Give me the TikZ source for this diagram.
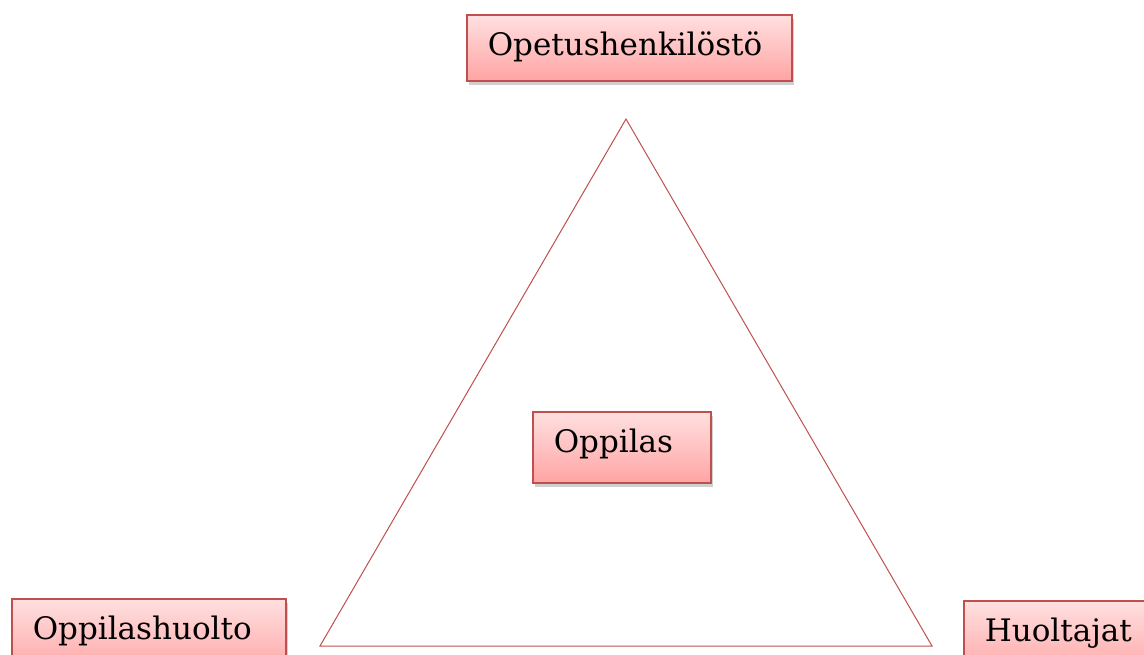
\documentclass[tikz,border=0pt]{standalone}
\usepackage{fontspec}
\setmainfont{DejaVu Serif}
\usetikzlibrary{shadows}
\definecolor{boxborder}{HTML}{C0504D}
\definecolor{boxtop}{HTML}{FFE0E0}
\definecolor{boxbot}{HTML}{FFA4A4}
\definecolor{triline}{HTML}{C0504D}
\tikzset{
  rolebox/.style={draw=boxborder, line width=1.6pt, top color=boxtop, bottom color=boxbot,
    drop shadow={shadow xshift=2pt, shadow yshift=-4pt, opacity=0.3, fill=black!60},
    anchor=north west, inner xsep=21pt, inner ysep=0pt, align=left,
    font=\fontsize{31}{36}\selectfont, text height=41pt},
}
\begin{document}
\begin{tikzpicture}[x=1pt,y=-1pt]
\useasboundingbox (0,0) rectangle (1144,655);
\clip (0,0) rectangle (1144,655);
\fill[white] (0,0) rectangle (1144,655);
% triangle
\coordinate (apex) at (626,119);
\coordinate (bl) at (320,646);
\coordinate (br) at (932,646);
\draw[triline, line width=1pt, line join=miter] (apex) -- (bl) -- (br) -- cycle;
% boxes
\node[rolebox, minimum width=325pt, minimum height=66pt, text width=283pt, text depth=25pt] (opetus) at (466,14) {Opetushenkilöstö};
\node[rolebox, minimum width=178pt, minimum height=71pt, text width=136pt, text depth=30pt] (oppilas) at (532,411) {Oppilas};
\node[rolebox, minimum width=274pt, minimum height=76pt, text width=232pt, text depth=35pt] (huolto) at (11,598) {Oppilashuolto};
\node[rolebox, minimum width=200pt, minimum height=76pt, text width=158pt, text depth=35pt] (huoltajat) at (963,600) {Huoltajat};
\end{tikzpicture}
\end{document}
